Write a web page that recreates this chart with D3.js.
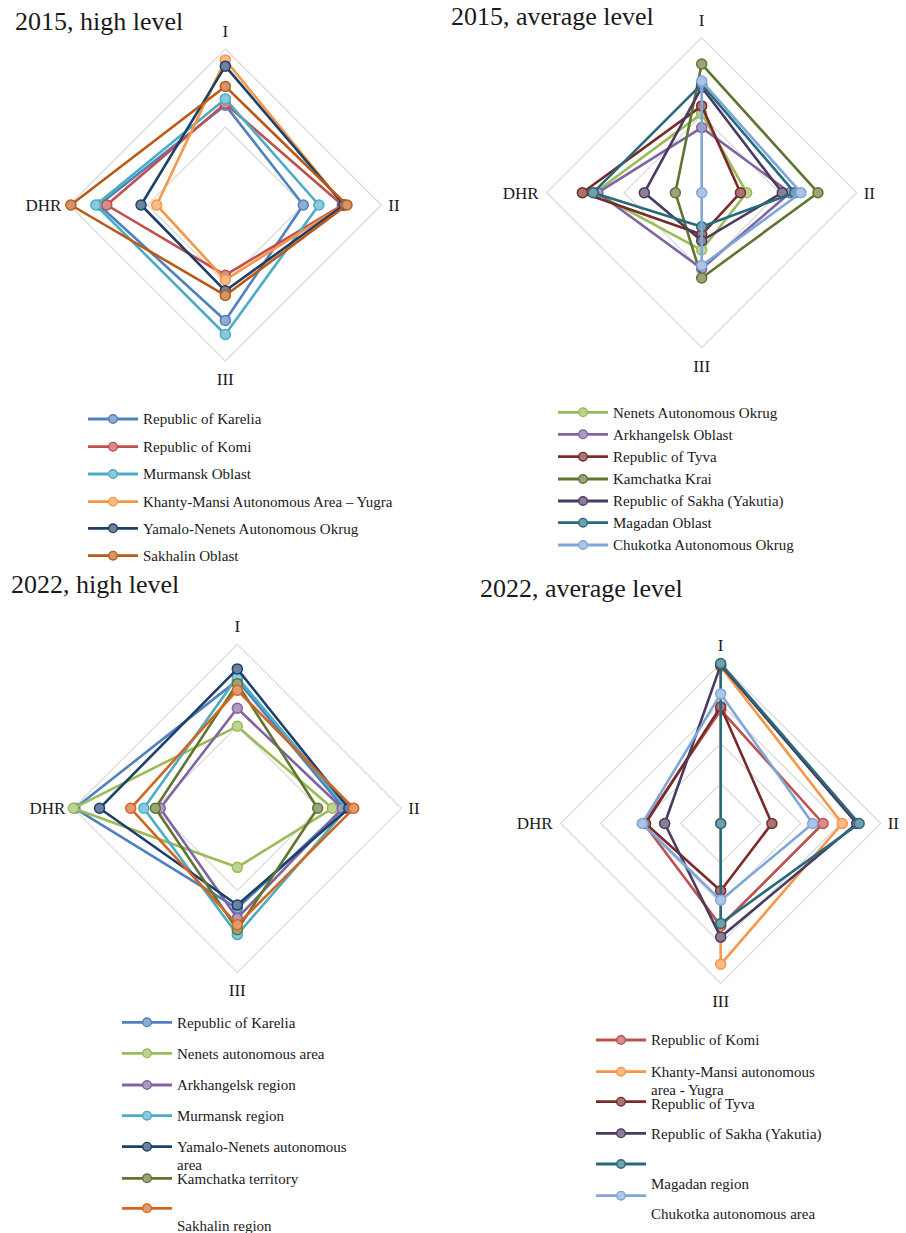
<!DOCTYPE html>
<html>
<head>
<meta charset="utf-8">
<script src="https://cdn.jsdelivr.net/npm/d3@7"></script>
<style>
  body { margin: 0; background: #fff; }
  svg { display: block; }
  text { font-family: "Liberation Serif", "Times New Roman", serif; fill: #1a1a1a; }
</style>
</head>
<body>
<svg id="chart" width="906" height="1233"></svg>
<script>
// Axes of every radar, clockwise from the top
const axes = ["I", "II", "III", "DHR"];

// 2015, high level
const regions2015High = [
  "Republic of Karelia", "Republic of Komi", "Murmansk Oblast",
  "Khanty-Mansi Autonomous Area – Yugra", "Yamalo-Nenets Autonomous Okrug", "Sakhalin Oblast"
];
const values2015High = [
  [0.64, 0.50, 0.74, 0.81],
  [0.65, 0.75, 0.45, 0.76],
  [0.68, 0.60, 0.83, 0.83],
  [0.93, 0.76, 0.48, 0.44],
  [0.89, 0.76, 0.55, 0.54],
  [0.76, 0.78, 0.58, 0.99]
];

// 2015, average level
const regions2015Avg = [
  "Nenets Autonomous Okrug", "Arkhangelsk Oblast", "Republic of Tyva", "Kamchatka Krai",
  "Republic of Sakha (Yakutia)", "Magadan Oblast", "Chukotka Autonomous Okrug"
];
const values2015Avg = [
  [0.51, 0.29, 0.37, 0.69],
  [0.42, 0.57, 0.49, 0.67],
  [0.56, 0.25, 0.27, 0.77],
  [0.83, 0.75, 0.55, 0.17],
  [0.68, 0.52, 0.31, 0.37],
  [0.70, 0.60, 0.22, 0.70],
  [0.72, 0.64, 0.47, 0.00]
];

// 2022, high level
const regions2022High = [
  "Republic of Karelia", "Nenets autonomous area", "Arkhangelsk region", "Murmansk region",
  "Yamalo-Nenets autonomous area", "Kamchatka territory", "Sakhalin region"
];
const values2022High = [
  [0.78, 0.65, 0.61, 0.99],
  [0.50, 0.58, 0.36, 1.00],
  [0.61, 0.64, 0.67, 0.47],
  [0.80, 0.67, 0.77, 0.57],
  [0.85, 0.68, 0.59, 0.84],
  [0.76, 0.49, 0.74, 0.50],
  [0.72, 0.71, 0.71, 0.65]
];

// 2022, average level
const regions2022Avg = [
  "Republic of Komi", "Khanty-Mansi autonomous area - Yugra", "Republic of Tyva",
  "Republic of Sakha (Yakutia)", "Magadan region", "Chukotka autonomous area"
];
const values2022Avg = [
  [0.71, 0.64, 0.64, 0.48],
  [0.98, 0.76, 0.88, 0.00],
  [0.73, 0.32, 0.42, 0.47],
  [0.99, 0.85, 0.71, 0.35],
  [1.00, 0.865, 0.625, 0.00],
  [0.81, 0.575, 0.48, 0.49]
];

// Series colours
const colors2015High = ["#4f81bd", "#c0504d", "#4bacc6", "#f79646", "#1f3f6b", "#bb5a16"];
const colors2015Avg  = ["#9bbb59", "#8064a2", "#7a2b29", "#5f7530", "#4a3a5f", "#276a7c", "#7fa6d8"];
const colors2022High = ["#4f81bd", "#9bbb59", "#8064a2", "#4bacc6", "#1f3f6b", "#5f7530", "#d4651f"];
const colors2022Avg  = ["#c0504d", "#f79646", "#7a2b29", "#4a3a5f", "#276a7c", "#7fa6d8"];

// Legend text, broken into lines as typeset
const legendText2022High = [
  ["Republic of Karelia"], ["Nenets autonomous area"], ["Arkhangelsk region"], ["Murmansk region"],
  ["Yamalo-Nenets autonomous", "area"], ["Kamchatka territory"], ["Sakhalin region"]
];
const legendText2022Avg = [
  ["Republic of Komi"], ["Khanty-Mansi autonomous", "area - Yugra"], ["Republic of Tyva"],
  ["Republic of Sakha (Yakutia)"], ["Magadan region"], ["Chukotka autonomous area"]
];

const charts = [
  {
    title: "2015, high level", titleX: 15, titleY: 30,
    cx: 225.3, cy: 205, R: 156, levels: [0.5, 1],
    regions: regions2015High, values: values2015High, colors: colors2015High,
    legend: {
      x0: 88, x1: 138, tx: 143,
      sy: [419, 446.7, 474, 501.7, 528.3, 555.7],
      ty: [[419], [446.7], [474], [501.7], [528.3], [555.7]],
      text: regions2015High.map(d => [d])
    }
  },
  {
    title: "2015, average level", titleX: 451, titleY: 25,
    cx: 701.7, cy: 192.7, R: 155, levels: [0.5, 1],
    regions: regions2015Avg, values: values2015Avg, colors: colors2015Avg,
    legend: {
      x0: 558, x1: 608, tx: 613,
      sy: [412.3, 434.3, 456.7, 479, 501, 522.7, 545],
      ty: [[412.3], [434.3], [456.7], [479], [501], [522.7], [545]],
      text: regions2015Avg.map(d => [d])
    }
  },
  {
    title: "2022, high level", titleX: 11, titleY: 593,
    cx: 237.3, cy: 808.3, R: 164, levels: [0.5, 1],
    regions: regions2022High, values: values2022High, colors: colors2022High,
    legend: {
      x0: 122, x1: 172, tx: 177,
      sy: [1022.3, 1053.3, 1085, 1115.7, 1146.7, 1178.3, 1208.3],
      ty: [[1022.3], [1053.3], [1085], [1115.7], [1147.2, 1164.8], [1179], [1225.5]],
      text: legendText2022High
    }
  },
  {
    title: "2022, average level", titleX: 480, titleY: 597,
    cx: 720.7, cy: 823.5, R: 160, levels: [0.25, 0.5, 0.75, 1],
    regions: regions2022Avg, values: values2022Avg, colors: colors2022Avg,
    legend: {
      x0: 596, x1: 646, tx: 651,
      sy: [1040, 1071.7, 1101.7, 1133.3, 1164, 1195.7],
      ty: [[1040], [1071.7, 1089.3], [1103.5], [1133.3], [1183.3], [1214]],
      text: legendText2022Avg
    }
  }
];

const svg = d3.select("#chart");
svg.append("rect").attr("width", 906).attr("height", 1233).attr("fill", "#fff");

// Angle of each axis: I at the top, then clockwise
const angle = d3.scalePoint().domain(axes).range([0, 2 * Math.PI * 3 / 4]);

function drawRadar(spec) {
  const g = svg.append("g");
  const r = d3.scaleLinear().domain([0, 1]).range([0, spec.R]);
  const pt = (axis, v) => {
    const a = angle(axis) - Math.PI / 2;
    return [spec.cx + r(v) * Math.cos(a), spec.cy + r(v) * Math.sin(a)];
  };

  // title
  g.append("text")
    .attr("x", spec.titleX).attr("y", spec.titleY)
    .attr("font-size", 26).text(spec.title);

  // grid diamonds
  const line = d3.line().curve(d3.curveLinearClosed);
  g.append("g").selectAll("path").data(spec.levels).join("path")
    .attr("d", lv => line(axes.map(a => pt(a, lv))))
    .attr("fill", "none").attr("stroke", "#d9d9d9").attr("stroke-width", 1.2);

  // axis labels
  const pads = { I: [0, -18], II: [7, 0], III: [0, 18], DHR: [-8, 0] };
  const anchors = { I: "middle", II: "start", III: "middle", DHR: "end" };
  g.append("g").selectAll("text").data(axes).join("text")
    .attr("x", a => pt(a, 1)[0] + pads[a][0])
    .attr("y", a => pt(a, 1)[1] + pads[a][1])
    .attr("dy", "0.35em")
    .attr("text-anchor", a => anchors[a])
    .attr("font-size", 17)
    .text(a => a);

  // series polygons and markers
  spec.values.forEach((vals, i) => {
    const col = spec.colors[i];
    const fillCol = d3.interpolateRgb(col, "#ffffff")(0.35);
    const pts = axes.map((a, j) => pt(a, vals[j]));
    const s = g.append("g");
    s.append("path")
      .attr("d", line(pts))
      .attr("fill", "none").attr("stroke", col)
      .attr("stroke-width", 2.6).attr("stroke-linejoin", "round");
    s.selectAll("circle").data(pts).join("circle")
      .attr("cx", d => d[0]).attr("cy", d => d[1]).attr("r", 5)
      .attr("fill", fillCol).attr("stroke", col).attr("stroke-width", 1.5);
  });

  // legend
  const L = spec.legend;
  spec.regions.forEach((name, i) => {
    const col = spec.colors[i];
    const lg = g.append("g");
    lg.append("line")
      .attr("x1", L.x0).attr("x2", L.x1).attr("y1", L.sy[i]).attr("y2", L.sy[i])
      .attr("stroke", col).attr("stroke-width", 2.8);
    lg.append("circle")
      .attr("cx", (L.x0 + L.x1) / 2).attr("cy", L.sy[i]).attr("r", 4.3)
      .attr("fill", d3.interpolateRgb(col, "#ffffff")(0.35))
      .attr("stroke", col).attr("stroke-width", 1.4);
    L.text[i].forEach((t, k) => {
      lg.append("text")
        .attr("x", L.tx).attr("y", L.ty[i][k]).attr("dy", "0.35em")
        .attr("font-size", 15).text(t);
    });
  });
}

charts.forEach(drawRadar);
</script>
</body>
</html>
